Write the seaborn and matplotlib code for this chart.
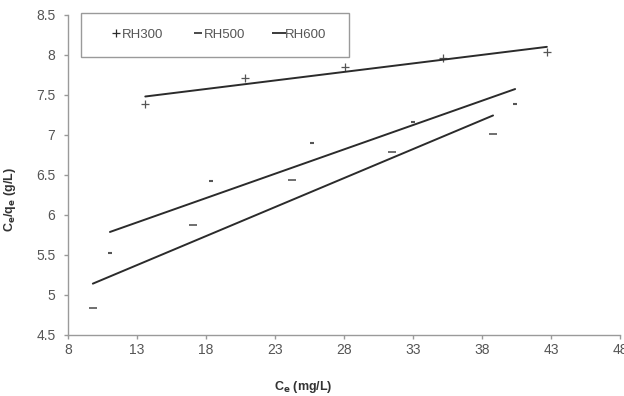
import numpy as np
import pandas as pd
import matplotlib
matplotlib.use("Agg")
import matplotlib.pyplot as plt
from matplotlib.ticker import FuncFormatter
from matplotlib.lines import Line2D
from matplotlib.patches import Rectangle
import seaborn as sns

series = ["RH300", "RH500", "RH600"]
ce_rh300 = [13.6, 20.8, 28.1, 35.2, 42.7]
cq_rh300 = [7.39, 7.71, 7.85, 7.96, 8.04]
ce_rh500 = [9.8, 17.06, 24.2, 31.5, 38.8]
cq_rh500 = [4.84, 5.875, 6.44, 6.79, 7.01]
ce_rh600 = [11.04, 18.36, 25.7, 33.0, 40.4]
cq_rh600 = [5.525, 6.425, 6.9, 7.16, 7.39]
x_ticks = [8, 13, 18, 23, 28, 33, 38, 43, 48]
y_ticks = [4.5, 5, 5.5, 6, 6.5, 7, 7.5, 8, 8.5]

df = pd.DataFrame({
    "Ce": ce_rh300 + ce_rh500 + ce_rh600,
    "CeQe": cq_rh300 + cq_rh500 + cq_rh600,
    "series": ["RH300"] * 5 + ["RH500"] * 5 + ["RH600"] * 5,
})

sns.set_style("white")
plt.rcParams["font.family"] = ["Liberation Sans", "DejaVu Sans"]

W, H = 624, 396
fig = plt.figure(figsize=(W / 100, H / 100), dpi=100)
ax = fig.add_axes([68 / W, 1 - 335 / H, (620 - 68) / W, (335 - 15) / H])

dark = "#2b2b2b"
markers = {"RH300": ("+", 28, 0.9), "RH500": ("_", 30, 1.2), "RH600": ("_", 8, 1.5)}
for s in series:
    sub = df[df["series"] == s]
    m, sz, lw = markers[s]
    sns.regplot(data=sub, x="Ce", y="CeQe", ax=ax, ci=None, truncate=True,
                marker=m, color=dark,
                scatter_kws={"s": sz, "linewidths": lw, "color": dark},
                line_kws={"color": dark, "linewidth": 1.4})

ax.set_xlim(8, 48)
ax.set_ylim(4.5, 8.5)
ax.set_xticks(x_ticks)
ax.set_yticks(y_ticks)
fmt = FuncFormatter(lambda v, p: f"{v:g}")
ax.xaxis.set_major_formatter(fmt)
ax.yaxis.set_major_formatter(fmt)

for side in ["top", "right"]:
    ax.spines[side].set_visible(False)
for side in ["left", "bottom"]:
    ax.spines[side].set_color("#9a9a9a")
    ax.spines[side].set_linewidth(1.0)
ax.tick_params(axis="both", direction="out", length=3, width=1, color="#9a9a9a",
               labelsize=10, labelcolor="#555555", left=True, bottom=True)
ax.tick_params(axis="x", pad=3)
ax.tick_params(axis="y", pad=6)

ax.set_xlabel(r"C$_\mathbf{e}$ (mg/L)", fontsize=9, fontweight="bold", color="#333333")
ax.xaxis.set_label_coords((303 - 68) / 552, -(379 - 335) / 320)
ax.set_ylabel(r"C$_\mathbf{e}$/q$_\mathbf{e}$ (g/L)", fontsize=9, fontweight="bold", color="#333333")
ax.yaxis.set_label_coords(-(68 - 18) / 552, (335 - 200) / 320)

# legend frame as in the reference (pixel box 81..349 x 13..57)
fig.patches.append(Rectangle((81 / W, 1 - 57 / H), (349 - 81) / W, (57 - 13) / H,
                             transform=fig.transFigure, fill=True, facecolor="white",
                             edgecolor="#9a9a9a", linewidth=1.0, zorder=5))
handles = [
    Line2D([], [], linestyle="none", marker="+", markersize=6, markeredgewidth=0.9, color=dark),
    Line2D([], [], linestyle="none", marker="_", markersize=6, markeredgewidth=1.2, color=dark),
    Line2D([], [], linestyle="none", marker="_", markersize=10, markeredgewidth=1.3, color=dark),
]
leg = fig.legend(handles, series, ncol=3, loc="center left",
                 bbox_to_anchor=(112 / W, 1 - 35 / H),
                 frameon=False, fontsize=9.5, handlelength=0.6,
                 handletextpad=0.15, columnspacing=2.3, borderpad=0,
                 borderaxespad=0)
leg.set_zorder(6)
for t in leg.get_texts():
    t.set_color("#555555")

fig.savefig("out.png", dpi=100)
